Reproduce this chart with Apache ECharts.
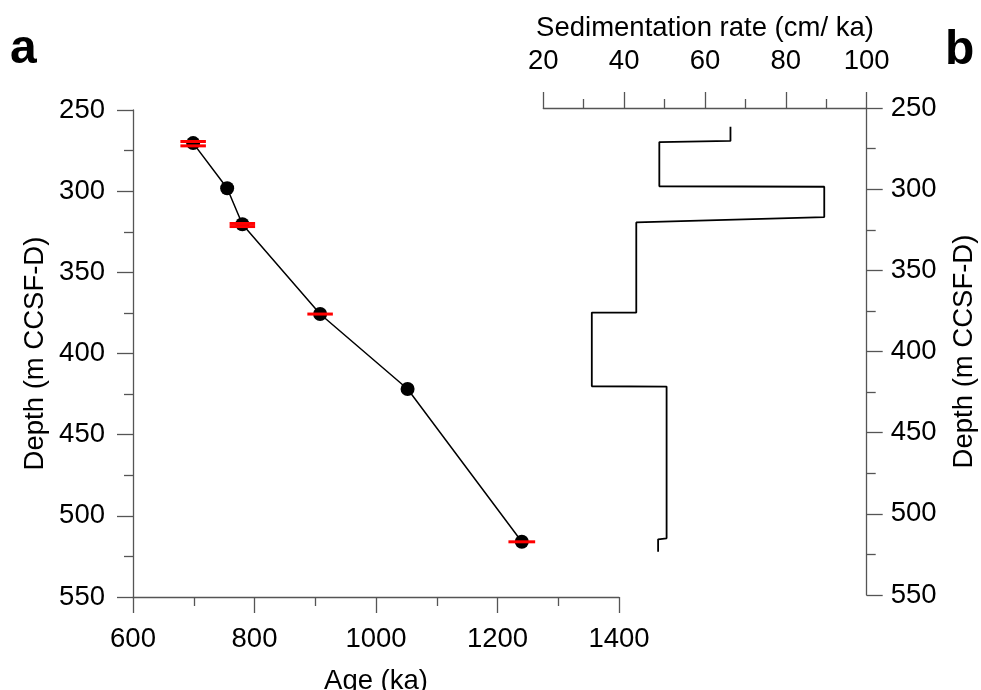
<!DOCTYPE html>
<html>
<head>
<meta charset="utf-8">
<title>Age model and sedimentation rate</title>
<script src="https://cdn.jsdelivr.net/npm/echarts@6/dist/echarts.min.js"></script>
<style>
  html, body { margin: 0; padding: 0; background: #fff; }
  #chart { width: 981px; height: 690px; }
</style>
</head>
<body>
<div id="chart"></div>
<script>
// age-depth tie points (panel a)
const ageKa = [699, 755, 780, 908, 1052, 1240];
const depthM = [270.4, 298.2, 320.4, 375.7, 421.9, 516];

// horizontal age error bars (red)
const errDepth = [269.4, 272.1, 319.9, 321.8, 375.7, 516];
const errAge = [699, 699, 780, 780, 908, 1240];
const errHalf = [21, 21, 21, 21, 21, 22];

// sedimentation rate step curve (panel b)
const rateCm = [66.3, 66.3, 48.7, 48.7, 89.5, 89.5, 43, 43, 32, 32, 50.5, 50.5, 48.4, 48.4];
const rateDepth = [261.5, 270.3, 271, 298.2, 298.5, 317.2, 320.5, 376, 376, 421.4, 421.6, 515.1, 515.7, 523.3];

const FONT = 'Liberation Sans, Arial, sans-serif';
const FONT_SIZE = 27.5;
const AXIS_COLOR = '#555';

// plain numbers, no thousands separator
const plain = v => String(v);

function axisBase(extra, labelMargin) {
  const base = {
    type: 'value',
    nameLocation: 'middle',
    nameTextStyle: { fontFamily: FONT, fontSize: FONT_SIZE, color: '#000' },
    axisLine: { show: true, lineStyle: { color: AXIS_COLOR, width: 1.3 } },
    axisTick: { show: true, inside: false, length: 16, lineStyle: { color: AXIS_COLOR, width: 1.3 } },
    minorTick: { show: true, splitNumber: 2, length: 9, lineStyle: { color: AXIS_COLOR, width: 1.3 } },
    axisLabel: { fontFamily: FONT, fontSize: FONT_SIZE, color: '#000', margin: labelMargin, formatter: plain },
    splitLine: { show: false },
    minorSplitLine: { show: false },
  };
  return Object.assign(base, extra);
}

const myChart = echarts.init(document.getElementById('chart'), null, { renderer: 'canvas' });

myChart.setOption({
  animation: false,
  backgroundColor: '#fff',
  graphic: [
    { type: 'text', left: 10, top: 26, style: { text: 'a', font: 'bold 48px ' + FONT, fill: '#000' } },
    { type: 'text', left: 945, top: 27, style: { text: 'b', font: 'bold 48px ' + FONT, fill: '#000' } },
  ],
  // fixed plot boxes, no auto shrinking for the labels
  grid: [
    { left: 133, top: 110, width: 486, height: 487, outerBoundsMode: 'none', containLabel: false },
    { left: 543.3, top: 108, width: 323.4, height: 487, outerBoundsMode: 'none', containLabel: false },
  ],
  xAxis: [
    axisBase({
      gridIndex: 0, position: 'bottom', min: 600, max: 1400, interval: 200,
      name: 'Age (ka)', nameGap: 70,
    }, 28),
    axisBase({
      gridIndex: 1, position: 'top', min: 20, max: 100, interval: 20,
      name: 'Sedimentation rate (cm/ ka)', nameGap: 66,
    }, 33),
  ],
  yAxis: [
    axisBase({
      gridIndex: 0, position: 'left', inverse: true, min: 250, max: 550, interval: 50,
      name: 'Depth (m CCSF-D)', nameGap: 84,
    }, 28),
    axisBase({
      gridIndex: 1, position: 'right', inverse: true, min: 250, max: 550, interval: 50,
      name: 'Depth (m CCSF-D)', nameGap: 84,
    }, 24),
  ],
  series: [
    {
      name: 'tie points',
      type: 'line',
      xAxisIndex: 0,
      yAxisIndex: 0,
      symbol: 'circle',
      symbolSize: 14,
      itemStyle: { color: '#000' },
      lineStyle: { color: '#000', width: 1.5 },
      data: ageKa.map((a, i) => [a, depthM[i]]),
      z: 2,
    },
    {
      name: 'age error',
      type: 'custom',
      xAxisIndex: 0,
      yAxisIndex: 0,
      z: 3,
      data: errAge.map((a, i) => [a - errHalf[i], a + errHalf[i], errDepth[i]]),
      renderItem: function(params, api) {
        const p1 = api.coord([api.value(0), api.value(2)]);
        const p2 = api.coord([api.value(1), api.value(2)]);
        return {
          type: 'line',
          shape: { x1: p1[0], y1: p1[1], x2: p2[0], y2: p2[1] },
          style: { stroke: '#ff0000', lineWidth: 3 },
        };
      },
    },
    {
      name: 'sedimentation rate',
      type: 'line',
      xAxisIndex: 1,
      yAxisIndex: 1,
      showSymbol: false,
      symbol: 'none',
      lineStyle: { color: '#000', width: 1.8 },
      data: rateCm.map((r, i) => [r, rateDepth[i]]),
    },
  ],
});
</script>
</body>
</html>
